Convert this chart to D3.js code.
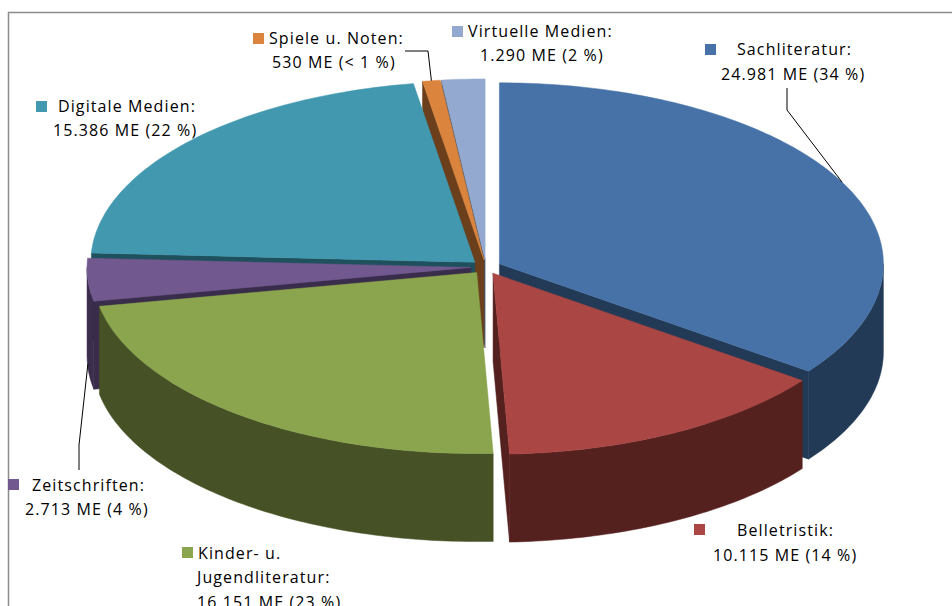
<!DOCTYPE html>
<html>
<head>
<meta charset="utf-8">
<script src="https://cdn.jsdelivr.net/npm/d3@7/dist/d3.min.js"></script>
<style>
  body { margin: 0; background: #fff; }
  svg { display: block; }
  text { font-family: "Open Sans", sans-serif; font-size: 16px; letter-spacing: 1.1px; fill: #000; }
</style>
</head>
<body>
<svg id="chart" width="952" height="606"></svg>
<script>
// data
var categories = ["Sachliteratur", "Belletristik", "Kinder- u. Jugendliteratur", "Zeitschriften", "Digitale Medien", "Spiele u. Noten", "Virtuelle Medien"];
var values = [24981, 10115, 16151, 2713, 15386, 530, 1290];
var nameLines = [["Sachliteratur:"], ["Belletristik:"], ["Kinder- u.", "Jugendliteratur:"], ["Zeitschriften:"], ["Digitale Medien:"], ["Spiele u. Noten:"], ["Virtuelle Medien:"]];
var valueLabels = ["24.981 ME (34 %)", "10.115 ME (14 %)", "16.151 ME (23 %)", "2.713 ME (4 %)", "15.386 ME (22 %)", "530 ME (< 1 %)", "1.290 ME (2 %)"];

// styles
var topColors = ["#4672a8", "#aa4643", "#8aa54e", "#71588f", "#4198af", "#db843d", "#93a9cf"];
var sideColors = ["#233a57", "#55211f", "#465226", "#3a2c4b", "#1f505d", "#6b3f1c", "#4b5769"];

// label layout: marker box, line starts (x, baseline), optional leader elbow
var labelPos = [
  { m: [705, 44], lines: [[737, 55], [721, 80]], leader: [[787, 88], [787, 110]], z: 0 },
  { m: [694, 524], lines: [[737, 536], [713, 561]] },
  { m: [182, 547], lines: [[198, 559], [197, 583], [197, 608]] },
  { m: [8, 479], lines: [[32, 491], [25, 515]], leader: [[79, 470], [79, 445]], z: 84 },
  { m: [36, 101], lines: [[58, 112], [53, 136]] },
  { m: [253, 33], lines: [[269, 44], [272, 68]], leader: [[405, 51], [428, 51]], z: 0 },
  { m: [452, 26], lines: [[468, 37], [480, 61]] }
];

var cx = 486, cy = 267, rx = 384, ry = 181, depth = 88, explode = 15;

var svg = d3.select("#chart");

// frame
svg.append("path")
  .attr("d", "M8.5,606 V12.5 H952")
  .attr("fill", "none")
  .attr("stroke", "#8c8c8c")
  .attr("stroke-width", 1.5);

var arcs = d3.pie().sort(null).startAngle(0).endAngle(2 * Math.PI)(values);

arcs.forEach(function(d){
  var mid = (d.startAngle + d.endAngle) / 2;
  d.mid = mid;
  d.off = [explode * Math.sin(mid), -explode * Math.cos(mid) * ry / rx];
});

function pt(d, a, r, z){
  return [cx + d.off[0] + rx * r * Math.sin(a), cy + d.off[1] - ry * r * Math.cos(a) + z];
}

function rim(d, a0, a1, z){
  var n = Math.max(2, Math.ceil((a1 - a0) / (Math.PI / 180)));
  var pts = [];
  for (var i = 0; i <= n; i++) pts.push(pt(d, a0 + (a1 - a0) * i / n, 1, z));
  return pts;
}

var line = d3.line();
var faces = [];

arcs.forEach(function(d, i){
  // outer wall (front half only)
  var w0 = Math.max(d.startAngle, Math.PI / 2), w1 = Math.min(d.endAngle, 3 * Math.PI / 2);
  if (w1 > w0) {
    var pts = rim(d, w0, w1, 0).concat(rim(d, w0, w1, depth).reverse());
    var m = (w0 + w1) / 2;
    faces.push({ key: -Math.cos(m) + d.off[1] / ry, pts: pts, i: i });
  }
  // radial cut faces
  [[d.startAngle, -Math.sin(d.startAngle)], [d.endAngle, Math.sin(d.endAngle)]].forEach(function(s){
    if (s[1] > 1e-6) {
      var a = s[0];
      var pts = [pt(d, a, 0, 0), pt(d, a, 1, 0), pt(d, a, 1, depth), pt(d, a, 0, depth)];
      faces.push({ key: -0.5 * Math.cos(a) + d.off[1] / ry, pts: pts, i: i });
    }
  });
});

faces.sort(function(a, b){ return a.key - b.key; });

svg.append("g").selectAll("path.side")
  .data(faces)
  .join("path")
  .attr("class", "side")
  .attr("d", function(f){ return line(f.pts) + "Z"; })
  .attr("fill", function(f){ return sideColors[f.i]; })
  .attr("stroke", function(f){ return sideColors[f.i]; })
  .attr("stroke-width", 0.5);

svg.append("g").selectAll("path.top")
  .data(arcs)
  .join("path")
  .attr("class", "top")
  .attr("d", function(d){ return line([pt(d, 0, 0, 0)].concat(rim(d, d.startAngle, d.endAngle, 0))) + "Z"; })
  .attr("fill", function(d, i){ return topColors[i]; })
  .attr("stroke", function(d, i){ return topColors[i]; })
  .attr("stroke-width", 0.5);

// leader lines
arcs.forEach(function(d, i){
  var L = labelPos[i];
  if (!L.leader) return;
  svg.append("path")
    .attr("d", line(L.leader.concat([pt(d, d.mid, 1, L.z)])))
    .attr("fill", "none")
    .attr("stroke", "#000")
    .attr("stroke-width", 1);
});

// labels
var labels = svg.append("g").selectAll("g.label")
  .data(categories)
  .join("g")
  .attr("class", "label");

labels.append("rect")
  .attr("x", function(c, i){ return labelPos[i].m[0]; })
  .attr("y", function(c, i){ return labelPos[i].m[1]; })
  .attr("width", 11)
  .attr("height", 11)
  .attr("fill", function(c, i){ return topColors[i]; });

labels.each(function(c, i){
  var g = d3.select(this);
  var txt = nameLines[i].concat([valueLabels[i]]);
  txt.forEach(function(t, j){
    g.append("text")
      .attr("x", labelPos[i].lines[j][0])
      .attr("y", labelPos[i].lines[j][1])
      .text(t);
  });
});
</script>
</body>
</html>
